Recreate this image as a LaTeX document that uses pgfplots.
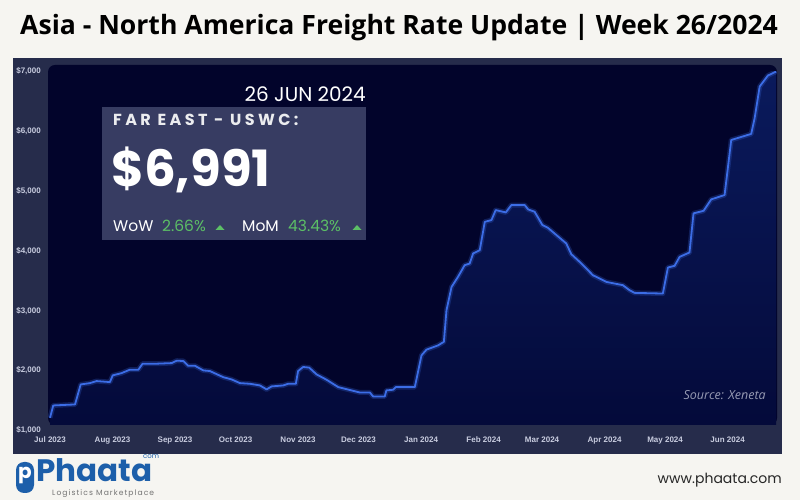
\documentclass[border=0pt]{standalone}
\usepackage{pgfplots}
\usepackage{pgfplotstable}
\pgfplotsset{compat=1.18}
\usepackage{fontspec}
\setmainfont{Open Sans}
\newfontfamily\poppins{Poppins}
\newfontfamily\arial{Liberation Sans}

\definecolor{pagebg}{HTML}{F6F5F1}
\definecolor{panel}{HTML}{262C4B}
\definecolor{inner}{HTML}{02042B}
\definecolor{rateline}{HTML}{3C6DE6}
\definecolor{areatop}{HTML}{0A1A5C}
\definecolor{areabot}{HTML}{040A3A}
\definecolor{boxbg}{HTML}{373C62}
\definecolor{upgreen}{HTML}{5CBF66}
\definecolor{ticktext}{HTML}{C9CDE0}
\definecolor{logoblue}{HTML}{1D5FAA}

% days since 1 Jul 2023, rate in USD/FEU
\pgfplotstableread{
d v
0 1212
1.6 1418
12.4 1435
15.2 1769
19.8 1791
23.1 1825
29.7 1808
31.1 1920
35.5 1958
39.6 2015
43.8 2015
45.9 2115
52.9 2115
60.3 2125
62.8 2165
66.1 2160
68.5 2080
71.9 2080
76 2003
79.3 1992
85.9 1890
90 1853
94.2 1791
99.1 1780
104.1 1752
107.4 1686
109.9 1736
115.6 1752
118.1 1780
121.9 1780
123 1992
125.5 2060
128.5 2050
132.2 1936
137.1 1848
142.9 1725
149.5 1669
153.6 1635
158.6 1635
160.2 1569
166 1569
166.8 1669
170.1 1680
171.5 1725
180.9 1725
184.2 2254
186.7 2350
192.4 2420
195.3 2480
196.6 3007
199.1 3396
202.3 3564
205.6 3759
208.1 3787
209.8 3955
213.1 4010
215.6 4483
218.9 4512
221 4679
226 4640
228.8 4763
235.4 4763
237.1 4690
240.3 4651
244.2 4428
246.9 4383
256 4122
258.5 3943
263.5 3788
269.2 3592
275.9 3480
284.1 3425
287.4 3341
289.9 3297
303.9 3286
306.4 3721
309.7 3748
312.2 3898
317.1 3971
319.1 4624
324.1 4667
327.9 4858
334.5 4930
337.8 5849
347.7 5950
349.4 6212
351.9 6741
356 6925
360.1 6991
}\ratedata

\begin{document}
\begin{tikzpicture}[x=1pt,y=1pt]
\fill[pagebg] (0,0) rectangle (800,500);
\node[anchor=base west, inner sep=0, font=\fontsize{26.6}{30}\selectfont\bfseries] at (20,465)
  {Asia - North America Freight Rate Update | Week 26/2024};

\fill[panel] (13,46) rectangle (782,442);
\fill[inner, rounded corners=7pt] (48,75) rectangle (777,435);

\begin{axis}[
  at={(48pt,69.5pt)}, anchor=south west,
  scale only axis, width=729pt, height=359.5pt,
  xmin=-1, xmax=360.5, ymin=1000, ymax=7000,
  axis line style={draw=none},
  major tick length=0pt,
  xtick={0,31,62,92,123,153,184,215,244,275,305,336},
  xticklabels={Jul 2023,Aug 2023,Sep 2023,Oct 2023,Nov 2023,Dec 2023,
               Jan 2024,Feb 2024,Mar 2024,Apr 2024,May 2024,Jun 2024},
  ytick={1000,2000,3000,4000,5000,6000,7000},
  yticklabels={{\$1,000},{\$2,000},{\$3,000},{\$4,000},{\$5,000},{\$6,000},{\$7,000}},
  ticklabel style={font=\arial\bfseries\fontsize{8}{9}\selectfont, text=ticktext},
  xticklabel style={anchor=north, inner sep=0pt, yshift=-6.5pt},
  yticklabel style={anchor=east, inner sep=0pt, xshift=-7pt},
]
  \addplot[draw=none, top color=areatop, bottom color=areabot]
    table[x=d, y=v] {\ratedata} -- (axis cs:360.1,1092) -- (axis cs:0,1092) -- cycle;
  \addplot[rateline, opacity=0.25, line width=5pt, line join=round] table[x=d, y=v] {\ratedata};
  \addplot[rateline, line width=1.8pt, line join=round] table[x=d, y=v] {\ratedata};
\end{axis}

% rate card
\fill[boxbg] (102,260) rectangle (366,393);
\node[anchor=base east, inner sep=0, text=white, font=\poppins\fontsize{20}{24}\selectfont] at (366,398.3) {26 JUN 2024};
\node[anchor=base west, inner sep=0, text=white!90!boxbg, font=\poppins\bfseries\fontsize{16}{20}\selectfont\addfontfeature{LetterSpace=21}] at (113,374.3) {FAR EAST - USWC:};
\node[anchor=base west, inner sep=0, text=white, font=\poppins\bfseries\fontsize{50}{56}\selectfont] at (111,313) {\$6,991};
\node[anchor=base west, inner sep=0, text=white, font=\poppins\fontsize{15.5}{18}\selectfont] at (113,268.3) {WoW};
\node[anchor=base west, inner sep=0, text=upgreen, font=\poppins\fontsize{15.5}{18}\selectfont] at (162,268.3) {2.66\%};
\fill[upgreen] (215.5,270) -- (224.5,270) -- (220,275) -- cycle;
\node[anchor=base west, inner sep=0, text=white, font=\poppins\fontsize{15.5}{18}\selectfont] at (242,268.3) {MoM};
\node[anchor=base west, inner sep=0, text=upgreen, font=\poppins\fontsize{15.5}{18}\selectfont] at (288,268.3) {43.43\%};
\fill[upgreen] (352.5,270) -- (361.5,270) -- (357,275) -- cycle;

\node[anchor=base east, inner sep=0, text=ticktext!75!inner, font=\itshape\fontsize{12.5}{14}\selectfont] at (766,100) {Source: Xeneta};

% footer
\fill[logoblue, rounded corners=8pt] (16,7) rectangle (34,38);
\node[text=white, font=\poppins\bfseries\fontsize{20}{20}\selectfont, inner sep=0] at (25,24) {p};
\node[anchor=base west, inner sep=0, text depth=0pt, text=logoblue, font=\poppins\bfseries\fontsize{31}{34}\selectfont] at (36,18) {Phaata};
\node[anchor=base west, inner sep=0, text=logoblue, font=\poppins\fontsize{7}{8}\selectfont] at (143,41) {com};
\node[anchor=base west, inner sep=0, text=black!55, font=\poppins\fontsize{7.6}{9}\selectfont\addfontfeature{LetterSpace=14}] at (52,4.8) {Logistics Marketplace};
\node[anchor=base east, inner sep=0, text=black!85, font=\poppins\fontsize{14}{16}\selectfont] at (782,16) {www.phaata.com};
\end{tikzpicture}
\end{document}
